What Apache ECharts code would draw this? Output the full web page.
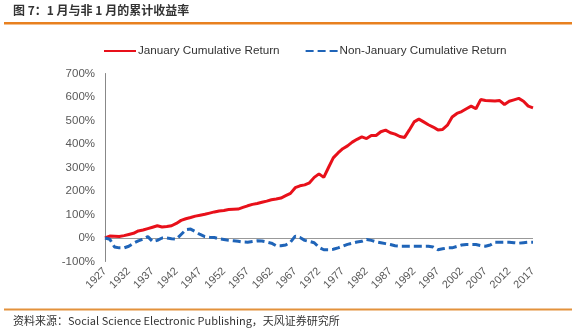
<!DOCTYPE html>
<html>
<head>
<meta charset="utf-8">
<script src="https://cdn.jsdelivr.net/npm/echarts@6/dist/echarts.min.js"></script>
<style>html,body{margin:0;padding:0;background:#fff;}#c{width:581px;height:335px;}</style>
</head>
<body>
<div id="c"></div>
<script>
var years = [];
for (var y = 1927; y <= 2017; y++) years.push(String(y));

var januaryReturn = [
  0, 8, 7, 6, 10, 15, 20, 30, 34, 40,
  46, 52, 47, 49, 52, 62, 75, 82, 87, 93,
  97, 101, 106, 111, 115, 117, 121, 122, 123, 130,
  137, 143, 147, 152, 157, 163, 166, 170, 180, 190,
  214, 222, 226, 235, 258, 273, 258, 300, 341, 362,
  380, 392, 408, 420, 430, 423, 436, 436, 452, 459,
  448, 442, 432, 428, 460, 494, 506, 494, 482, 472,
  460, 462, 480, 515, 530, 538, 550, 561, 550, 589,
  585, 584, 583, 585, 568, 582, 588, 594, 582, 561,
  554
];

var nonJanuaryReturn = [
  0, -5, -38, -42, -42, -35, -22, -12, -5, 6,
  -15, -10, 0, 0, -3, -5, 15, 35, 38, 27,
  15, 6, 3, 2, -3, -6, -10, -12, -14, -17,
  -18, -15, -12, -13, -17, -22, -33, -33, -30, -18,
  8, 2, -10, -15, -20, -40, -50, -50, -48, -42,
  -35, -27, -22, -17, -14, -6, -10, -16, -20, -24,
  -28, -33, -35, -35, -35, -35, -35, -35, -35, -38,
  -50, -46, -42, -42, -36, -30, -28, -28, -28, -32,
  -35, -30, -18, -18, -18, -18, -20, -22, -20, -18,
  -18
];

var titleText = '图 7：1 月与非 1 月的累计收益率';
var sourceText = '资料来源：Social Science Electronic Publishing，天风证券研究所';
var seriesNames = ['January Cumulative Return', 'Non-January Cumulative Return'];

var chart = echarts.init(document.getElementById('c'), null, {renderer: 'canvas'});
var splitColors = ['rgba(0,0,0,0)', '#999999', 'rgba(0,0,0,0)', 'rgba(0,0,0,0)', 'rgba(0,0,0,0)', 'rgba(0,0,0,0)', 'rgba(0,0,0,0)', 'rgba(0,0,0,0)', 'rgba(0,0,0,0)'];
chart.setOption({
  animation: false,
  backgroundColor: '#ffffff',
  graphic: [
    {type: 'text', left: 13, top: 4, style: {text: titleText, font: 'bold 12px "Noto Sans CJK SC", sans-serif', fill: '#333333'}},
    {type: 'rect', shape: {x: 4, y: 22, width: 568, height: 2.5}, style: {fill: '#E8801F'}},
    {type: 'rect', shape: {x: 4, y: 308.5, width: 568, height: 2}, style: {fill: '#E3923C'}},
    {type: 'text', left: 13, top: 315, style: {text: sourceText, font: '11px "Noto Sans CJK SC", sans-serif', fill: '#333333'}}
  ],
  legend: {
    left: 98, top: 40,
    itemWidth: 32, itemHeight: 12, itemGap: 25,
    itemStyle: {opacity: 0},
    textStyle: {fontFamily: '"Liberation Sans", Arial, sans-serif', fontSize: 11.7, color: '#333333', padding: [0, 0, 0, -3]},
    data: seriesNames
  },
  grid: {left: 105, right: 48, top: 73.5, bottom: 73.5, containLabel: false},
  xAxis: {
    type: 'category', data: years, boundaryGap: false,
    axisLine: {show: false}, axisTick: {show: false},
    axisLabel: {interval: 4, rotate: 45, fontFamily: '"Liberation Sans", Arial, sans-serif', fontSize: 11, color: '#595959', margin: 8}
  },
  yAxis: {
    type: 'value', min: -100, max: 700, interval: 100,
    axisLine: {show: true, lineStyle: {color: '#888888', width: 1}},
    axisTick: {show: false},
    axisLabel: {formatter: '{value}%', fontFamily: '"Liberation Sans", Arial, sans-serif', fontSize: 11.5, color: '#595959', margin: 10},
    splitLine: {show: true, lineStyle: {color: splitColors, width: 1}}
  },
  series: [
    {name: seriesNames[0], type: 'line', data: januaryReturn, showSymbol: false, symbol: 'none',
     lineStyle: {color: '#E8101A', width: 3}, itemStyle: {color: '#E8101A'}},
    {name: seriesNames[1], type: 'line', data: nonJanuaryReturn, showSymbol: false, symbol: 'none',
     lineStyle: {color: '#1F64B8', width: 3, type: [8, 4]}, itemStyle: {color: '#1F64B8'}}
  ]
});
</script>
</body>
</html>
